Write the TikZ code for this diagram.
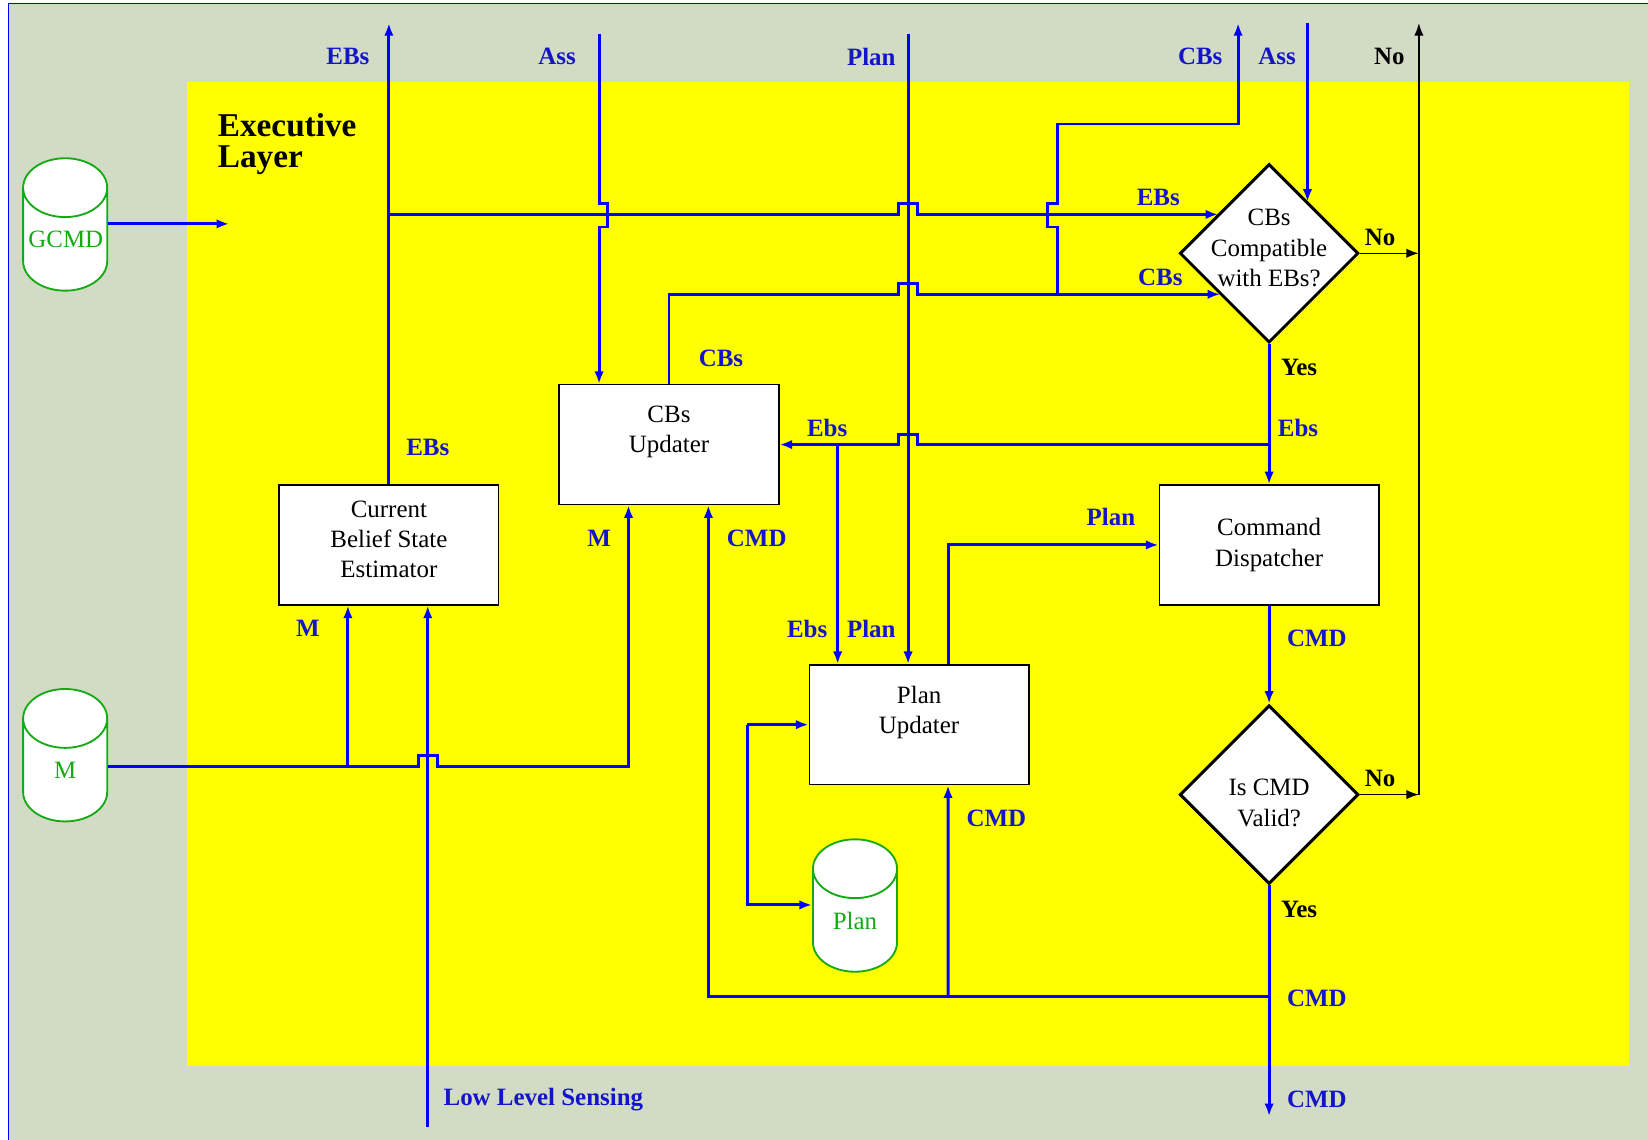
\documentclass[tikz,border=0pt]{standalone}
\usepackage{fontspec}
\setmainfont{Liberation Serif}
\usetikzlibrary{shapes.geometric,arrows.meta}
\definecolor{bgGray}{RGB}{210,220,196}
\definecolor{layerYellow}{RGB}{255,255,0}
\definecolor{flowBlue}{RGB}{0,0,255}
\definecolor{labBlue}{RGB}{20,20,200}
\definecolor{dbGreen}{RGB}{20,170,20}

\begin{document}
\begin{tikzpicture}[x=0.2mm,y=-0.2mm,
  font=\fontsize{13.5}{16.4}\selectfont,
  procbox/.style={draw=black, line width=0.8pt, fill=white, minimum width=41.8mm, minimum height=22.8mm, align=center, inner sep=0pt},
  testbox/.style={shape=diamond, draw=black, line width=1.6pt, fill=white, minimum width=34mm, minimum height=34mm, inner sep=0pt},
  testtext/.style={align=center, inner sep=0pt},
  dbase/.style={shape=cylinder, shape border rotate=90, aspect=0.8, draw=dbGreen, line width=1pt, fill=white, text=dbGreen, text width=14mm, align=center, minimum width=16mm, minimum height=25.2mm, inner sep=0pt},
  flow/.style={draw=flowBlue, line width=1.6pt, -{Latex[length=2.4mm,width=1.8mm]}},
  nowire/.style={draw=black, line width=0.8pt, -{Latex[length=2.4mm,width=1.8mm]}},
  lab/.style={text=labBlue, font=\fontsize{13.5}{16}\selectfont\bfseries, inner sep=0pt},
  blab/.style={lab, text=black},
]
\useasboundingbox (0,0) rectangle (1568,1084);
\draw[fill=bgGray, draw=flowBlue, line width=0.6pt] (8,3) rectangle (1620,1130);
\fill[layerYellow] (178,78) rectangle (1550,1014);
\node[anchor=north west, align=left, inner sep=0pt, font=\fontsize{18}{16.5}\selectfont\bfseries] (layerName) at (207,108) {Executive\\Layer};

\node[dbase] (gdb) at (62,228) {GCMD};
\node[dbase] (mdb) at (62,733) {M};
\node[dbase] (pdb) at (813.5,876) {Plan};

\node[procbox] (cbse) at (370,518.5) {Current\\Belief State\\Estimator\\[-10pt]\mbox{}};
\node[procbox] (cbu) at (636.5,423) {CBs\\Updater\\\mbox{}};
\node[procbox] (pu) at (874.5,689.5) {Plan\\Updater\\\mbox{}};
\node[procbox] (cd) at (1207.5,518.5) {Command\\Dispatcher};
\node[testbox] (dmd1) at (1207.5,241) {};
\node[testbox] (dmd2) at (1207.5,756) {};
\node[testtext] (dmd1Text) at (1207.5,236) {CBs\\Compatible\\with EBs?};
\node[testtext] (dmd2Text) at (1207.5,764) {Is CMD\\Valid?};

\coordinate (ebsTop) at (370,22);
\coordinate (assTop) at (570,32);
\coordinate (planTop) at (864,32);
\coordinate (cbsTop) at (1178,22);
\coordinate (cbsBend) at (1178,118);
\coordinate (ass2Top) at (1244,22);
\coordinate (noTop) at (1350,22);
\coordinate (llsBot) at (407,1072);
\coordinate (cmdBot) at (1207.5,1062);
\coordinate (gcmdEnd) at (218,213);
\coordinate (jEBs) at (370,204);
\coordinate (ebIn) at (1159,204);
\coordinate (cbsIn) at (1161,280);
\coordinate (assIn) at (1244,192);
\coordinate (jCBs) at (1006,280);
\coordinate (jEbs) at (1207.5,423);
\coordinate (jEbsPU) at (797,423);
\coordinate (jM) at (331,729);
\coordinate (jCmd) at (1207.5,948);
\coordinate (jCmdPU) at (902,948);
\coordinate (jPlanA) at (711,689.5);
\coordinate (jPlanB) at (711,861);

\draw[flow] (gdb.east |- gcmdEnd) -- (gcmdEnd);
\draw[flow] (cbse.north) -- (ebsTop);
\draw[flow] (jEBs) -- (855,204) -- (855,194) -- (873,194) -- (873,204) -- (ebIn);
\draw[flow] (assTop) -- (570,194) -- (578,194) -- (578,216) -- (570,216) -- (assTop |- cbu.north);
\draw[flow] (planTop) -- (planTop |- pu.north);
\draw[flow] (cbu.north) |- (855,280) -- (855,270) -- (873,270) -- (873,280) -- (cbsIn);
\draw[flow] (jCBs) -- (1006,216) -- (997,216) -- (997,194) -- (1006,194) |- (cbsBend) -- (cbsTop);
\draw[flow] (ass2Top) -- (assIn);
\draw[nowire] (dmd1.east) -- (dmd1.east -| noTop);
\draw[nowire] (dmd2.east) -- (dmd2.east -| noTop);
\draw[nowire] (dmd2.east -| noTop) -- (noTop);
\draw[flow] (dmd1.south) -- (cd.north);
\draw[flow] (jEbs) -- (873,423) -- (873,413) -- (855,413) -- (855,423) -- (cbu.east);
\draw[flow] (jEbsPU) -- (jEbsPU |- pu.north);
\draw[flow] ([xshift=5.5mm]pu.north) |- (cd.west);
\draw[flow] (cd.south) -- (dmd2.north);
\draw[flow] (dmd2.south) -- (cmdBot);
\draw[flow] (jCmd) -| ([xshift=7.5mm]cbu.south);
\draw[flow] (jCmdPU) -- ([xshift=5.5mm]pu.south);
\draw[flow] (mdb.east |- jM) -- (398,729) -- (398,719) -- (416,719) -- (416,729) -| ([xshift=-7.7mm]cbu.south);
\draw[flow] (jM) -- (jM |- cbse.south);
\draw[flow] (llsBot) -- (llsBot |- cbse.south);
\draw[flow] (jPlanA) -- (pu.west);
\draw[flow] (jPlanA) -- (jPlanB) -- (jPlanB -| pdb.west);

\node[lab] (lEBsTop) at (331,54) {EBs};
\node[lab] (lAssTop) at (530,54) {Ass};
\node[lab] (lPlanTop) at (829,54) {Plan};
\node[lab] (lCBsTop) at (1142,54) {CBs};
\node[lab] (lAss2Top) at (1215,54) {Ass};
\node[blab] (lNoTop) at (1322,54) {No};
\node[lab] (lEBsIn) at (1102,188) {EBs};
\node[lab] (lCBsIn) at (1104,264) {CBs};
\node[blab] (lNo1) at (1313,226) {No};
\node[lab] (lCBsOut) at (686,341) {CBs};
\node[blab] (lYes1) at (1236,350) {Yes};
\node[lab] (lEBsOut) at (407,426) {EBs};
\node[lab] (lEbsCBU) at (787,407) {Ebs};
\node[lab] (lEbsCD) at (1235,407) {Ebs};
\node[lab] (lPlanCD) at (1057,492) {Plan};
\node[lab] (lMCBU) at (570,512) {M};
\node[lab] (lCmdCBU) at (720,512) {CMD};
\node[lab] (lMCBSE) at (293,598) {M};
\node[lab] (lEbsPU) at (768,598) {Ebs};
\node[lab] (lPlanPU) at (829,598) {Plan};
\node[lab] (lCmdCD) at (1253,607) {CMD};
\node[blab] (lNo2) at (1313,741) {No};
\node[lab] (lCmdPU) at (948,779) {CMD};
\node[blab] (lYes2) at (1236,865) {Yes};
\node[lab] (lCmdFb) at (1253,950) {CMD};
\node[lab] (lLLS) at (517,1046) {Low Level Sensing};
\node[lab] (lCmdOut) at (1253,1046) {CMD};
\end{tikzpicture}
\end{document}
